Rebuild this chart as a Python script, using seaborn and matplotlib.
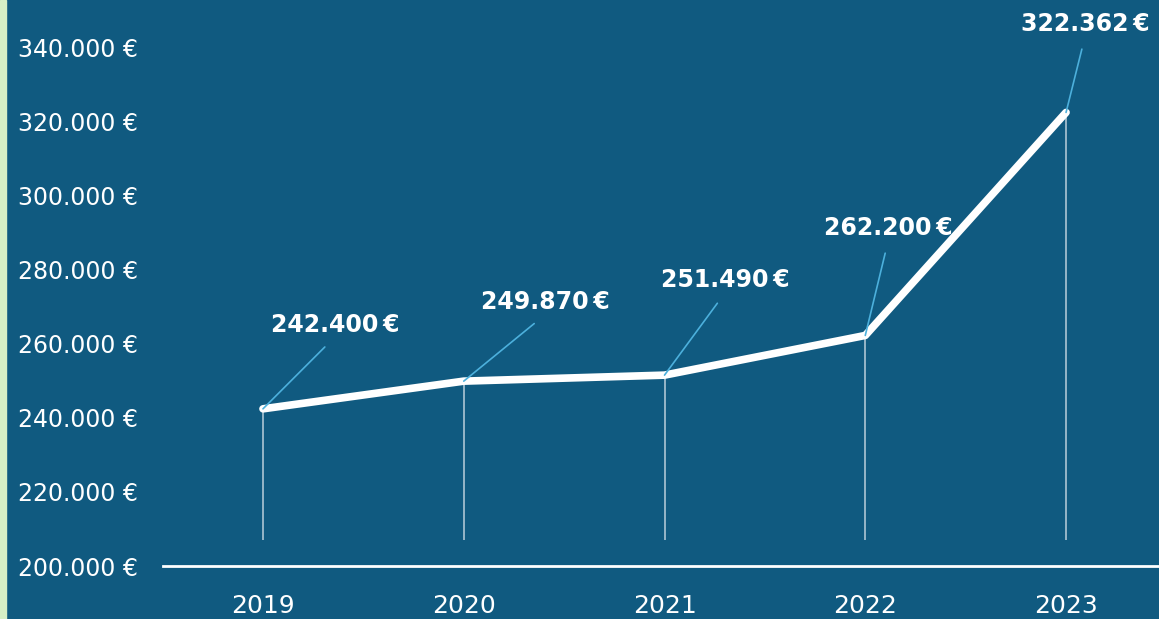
import pandas as pd
import matplotlib.pyplot as plt
import seaborn as sns

# data
years = [2019, 2020, 2021, 2022, 2023]
values = [242400, 249870, 251490, 262200, 322362]
labels = ["242.400\u2009€", "249.870\u2009€", "251.490\u2009€", "262.200\u2009€", "322.362\u2009€"]
y_ticks = [200000, 220000, 240000, 260000, 280000, 300000, 320000, 340000]

# label offsets from the point (pixels, right / up)
label_offsets = [(72, 84), (82, 79), (61, 95), (23, 107), (19, 88)]

bg = "#105a80"
leader = "#4cb0dc"

df = pd.DataFrame({"year": years, "value": values})

sns.set_theme(style="white")
plt.rcParams["font.family"] = ["DejaVu Sans"]

fig = plt.figure(figsize=(11.59, 6.19), dpi=100, facecolor=bg)
ax = fig.add_axes([163 / 1159, 53 / 619, 1 - 163 / 1159, 566 / 619])
ax.set_facecolor(bg)

# green strip on the left edge
fig.patches.append(plt.Rectangle((0, 0), 6 / 1159, 1, transform=fig.transFigure,
                                 color="#d6efc6", zorder=10))

# drop lines
ax.vlines(df["year"], 207000, df["value"], colors="white", alpha=0.65, lw=1.2, zorder=1)

sns.lineplot(data=df, x="year", y="value", ax=ax, color="white", lw=5.5,
             solid_capstyle="round", solid_joinstyle="round", zorder=3)

for yr, v, lab, (dx, dy) in zip(years, values, labels, label_offsets):
    ax.annotate(lab, xy=(yr, v), xytext=(dx, dy), textcoords="offset pixels",
                ha="center", va="center", color="white", fontsize=17, fontweight="bold",
                arrowprops=dict(arrowstyle="-", color=leader, lw=1.2,
                                relpos=(0.5, 0), shrinkA=7, shrinkB=0),
                zorder=4)

ax.set_xlim(2018.502, 2023.463)
ax.set_ylim(200000, 352690)
ax.set_xticks(years)
ax.set_xticklabels([str(y) for y in years])
ax.set_yticks(y_ticks)
ax.set_yticklabels([f"{t:,.0f} €".replace(",", ".") for t in y_ticks])
ax.tick_params(axis="y", length=0, pad=18, labelsize=17, labelcolor="white")
ax.tick_params(axis="x", length=0, pad=20, labelsize=18, labelcolor="white")
ax.set_xlabel("")
ax.set_ylabel("")

for s in ["top", "right", "left"]:
    ax.spines[s].set_visible(False)
ax.spines["bottom"].set_color("white")
ax.spines["bottom"].set_linewidth(2)

fig.savefig("out.png", dpi=100, facecolor=bg)
